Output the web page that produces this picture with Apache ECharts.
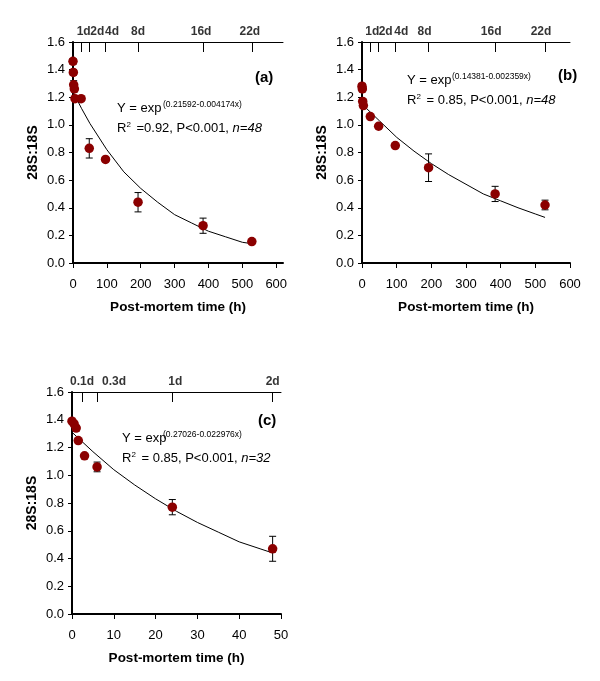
<!DOCTYPE html>
<html>
<head>
<meta charset="UTF-8">
<script src="https://cdn.jsdelivr.net/npm/echarts@6/dist/echarts.min.js"></script>
<style>html,body{margin:0;background:#fff}#chart{width:600px;height:681px}</style>
</head>
<body>
<div id="chart"></div>
<script>
// panel (a): post-mortem time (h), mean 28S:18S, error
var timeA = [0, 1, 2, 4, 6, 24, 48, 96, 192, 384, 528];
var meanA = [1.46, 1.38, 1.29, 1.26, 1.19, 1.19, 0.83, 0.75, 0.44, 0.27, 0.155];
var errA  = [0.02, 0.02, 0.03, 0.02, 0.01, 0.01, 0.07, 0.01, 0.07, 0.055, 0.01];
var fitXA = [0, 25, 50, 100, 150, 200, 250, 300, 350, 400, 450, 500, 528];
var fitYA = [1.24, 1.12, 1.01, 0.82, 0.66, 0.54, 0.44, 0.35, 0.29, 0.23, 0.19, 0.15, 0.14];

// panel (b)
var timeB = [0, 1, 2, 4, 24, 48, 96, 192, 384, 528];
var meanB = [1.28, 1.26, 1.17, 1.14, 1.06, 0.99, 0.85, 0.69, 0.50, 0.42];
var errB  = [0.02, 0.02, 0.02, 0.01, 0.01, 0.01, 0.01, 0.10, 0.055, 0.035];
var fitXB = [0, 50, 100, 150, 200, 250, 300, 350, 400, 450, 500, 528];
var fitYB = [1.15, 1.03, 0.91, 0.81, 0.72, 0.64, 0.57, 0.50, 0.45, 0.40, 0.355, 0.33];

// panel (c)
var timeC = [0, 0.5, 1, 1.5, 3, 6, 24, 48];
var meanC = [1.39, 1.37, 1.34, 1.25, 1.14, 1.06, 0.77, 0.47];
var errC  = [0.01, 0.01, 0.02, 0.01, 0.01, 0.035, 0.055, 0.09];
var fitXC = [0, 5, 10, 15, 20, 25, 30, 35, 40, 45, 48];
var fitYC = [1.31, 1.17, 1.04, 0.93, 0.83, 0.74, 0.66, 0.59, 0.52, 0.47, 0.44];

// top axes (days)
var dayTicksAB = [24, 48, 96, 192, 384, 528];
var dayLabelsAB = ['1d', '2d', '4d', '8d', '16d', '22d'];
var dayTicksC = [2.4, 6, 24, 48];
var dayLabelsC = ['0.1d', '0.3d', '1d', '2d'];

var bottomTicksA = [0, 100, 200, 300, 400, 500, 600];

var chart = echarts.init(document.getElementById('chart'));

function zip3(t, m, e) {
    return t.map(function (x, i) { return [x, m[i] - e[i], m[i] + e[i]]; });
}
function pairs(a, b) {
    return a.map(function (x, i) { return [x, b[i]]; });
}

function errorBar(params, api) {
    var x = api.value(0);
    var p1 = api.coord([x, api.value(2)]);
    var p2 = api.coord([x, api.value(1)]);
    var w = 3.5;
    var st = { stroke: '#000', lineWidth: 1 };
    return {
        type: 'group',
        children: [
            { type: 'line', shape: { x1: p1[0], y1: p1[1], x2: p2[0], y2: p2[1] }, style: st },
            { type: 'line', shape: { x1: p1[0] - w, y1: p1[1], x2: p1[0] + w, y2: p1[1] }, style: st },
            { type: 'line', shape: { x1: p2[0] - w, y1: p2[1], x2: p2[0] + w, y2: p2[1] }, style: st }
        ]
    };
}

function panelSeries(xi, yi, t, m, e, fx, fy) {
    return [
        {
            type: 'line', xAxisIndex: xi, yAxisIndex: yi, data: pairs(fx, fy),
            symbol: 'none', smooth: false, lineStyle: { color: '#000', width: 1 }, z: 2
        },
        {
            type: 'custom', xAxisIndex: xi, yAxisIndex: yi, data: zip3(t, m, e),
            renderItem: errorBar, encode: { x: 0, y: [1, 2] }, z: 3
        },
        {
            type: 'scatter', xAxisIndex: xi, yAxisIndex: yi, data: pairs(t, m),
            symbolSize: 9.5, itemStyle: { color: '#8b0000', opacity: 1 }, z: 4
        }
    ];
}

// day labels above the top axis, placed by the axis scale
function dayLabelSeries(xi, yi, ticks, labels, shifts) {
    return {
        type: 'scatter', xAxisIndex: xi, yAxisIndex: yi, symbolSize: 0, silent: true, clip: false,
        data: ticks.map(function (t, i) {
            return {
                value: [t, 1.6],
                label: {
                    show: true, position: 'top', distance: 4, offset: [shifts[i], 0],
                    formatter: labels[i], fontFamily: 'Liberation Sans', fontWeight: 'bold',
                    fontSize: 12, color: '#000'
                }
            };
        }),
        z: 5
    };
}

function yAx(gi) {
    return {
        type: 'value', gridIndex: gi, min: 0, max: 1.6, interval: 0.2,
        name: '28S:18S', nameLocation: 'middle', nameGap: 33,
        nameTextStyle: { fontFamily: 'Liberation Sans', fontWeight: 'bold', fontSize: 14, color: '#000' },
        axisLine: { show: true, lineStyle: { color: '#000', width: 2 } },
        axisTick: { show: true, length: 4, lineStyle: { color: '#000' } },
        axisLabel: { fontFamily: 'Liberation Sans', fontSize: 13, color: '#000', margin: 8,
            formatter: function (v) { return v.toFixed(1); } },
        splitLine: { show: false }
    };
}

function xBottom(gi, max, interval, custom) {
    var ax = {
        type: 'value', gridIndex: gi, position: 'bottom', min: 0, max: max, interval: interval,
        name: 'Post-mortem time (h)', nameLocation: 'middle', nameGap: 37,
        nameTextStyle: { fontFamily: 'Liberation Sans', fontWeight: 'bold', fontSize: 13.5, color: '#000' },
        axisLine: { show: true, onZero: false, lineStyle: { color: '#000', width: 2 } },
        axisTick: { show: true, length: 5, lineStyle: { color: '#000' } },
        axisLabel: { fontFamily: 'Liberation Sans', fontSize: 13, color: '#000', margin: 15 },
        splitLine: { show: false }
    };
    if (custom) {
        ax.axisTick.customValues = custom;
        ax.axisLabel.customValues = custom;
    }
    return ax;
}

function xTop(gi, max, ticks) {
    return {
        type: 'value', gridIndex: gi, position: 'top', min: 0, max: max,
        axisLine: { show: true, onZero: false, lineStyle: { color: '#000', width: 1 } },
        axisTick: { show: true, inside: true, length: 10, customValues: ticks, lineStyle: { color: '#000' } },
        axisLabel: { show: false },
        splitLine: { show: false }
    };
}

var txt = { fontFamily: 'Liberation Sans', fontSize: 13, fill: '#000' };
function eqGraphics(x, y1, xs, sup, r2, n) {
    return [
        { type: 'text', left: x, top: y1 - 8, style: Object.assign({ text: 'Y = exp' }, txt) },
        { type: 'text', left: xs, top: y1 - 10, style: { text: sup, fontFamily: 'Liberation Sans', fontSize: 8.5, fill: '#000' } },
        { type: 'text', left: x, top: y1 + 11, style: Object.assign({
            text: '{b|R}{s|2}{b|' + r2 + ', P<0.001, }{i|n=' + n + '}',
            rich: {
                b: { fontFamily: 'Liberation Sans', fontSize: 13, color: '#000', lineHeight: 15 },
                s: { fontFamily: 'Liberation Sans', fontSize: 8, color: '#000', lineHeight: 15, verticalAlign: 'top', padding: [0, 2, 0, 0] },
                i: { fontFamily: 'Liberation Sans', fontSize: 13, fontStyle: 'italic', color: '#000', lineHeight: 15 }
            }
        }, txt) }
    ];
}
function panelLabel(x, y, s) {
    return { type: 'text', left: x, top: y, style: { text: s, fontFamily: 'Liberation Sans', fontWeight: 'bold', fontSize: 15, fill: '#000' } };
}

var option = {
    backgroundColor: '#fff',
    animation: false,
    grid: [
        { left: 73, top: 42, width: 210, height: 221, outerBoundsMode: 'none' },
        { left: 362, top: 42, width: 208, height: 221, outerBoundsMode: 'none' },
        { left: 72, top: 392, width: 209, height: 222, outerBoundsMode: 'none' }
    ],
    xAxis: [
        xBottom(0, 620, 100, bottomTicksA),
        xTop(0, 620, dayTicksAB),
        xBottom(1, 600, 100),
        xTop(1, 600, dayTicksAB),
        xBottom(2, 50, 10),
        xTop(2, 50, dayTicksC)
    ],
    yAxis: [yAx(0), yAx(1), yAx(2)],
    series: [].concat(
        panelSeries(0, 0, timeA, meanA, errA, fitXA, fitYA),
        panelSeries(2, 1, timeB, meanB, errB, fitXB, fitYB),
        panelSeries(4, 2, timeC, meanC, errC, fitXC, fitYC),
        [
            dayLabelSeries(0, 0, dayTicksAB, dayLabelsAB, [2.5, 8, 6.5, 0, -2, -2]),
            dayLabelSeries(2, 1, dayTicksAB, dayLabelsAB, [2, 7, 6, -4, -4, -4]),
            dayLabelSeries(4, 2, dayTicksC, dayLabelsC, [0, 17, 3, 0])
        ]
    ),
    graphic: [].concat(
        eqGraphics(117, 110, 163, '(0.21592-0.004174x)', ' =0.92', 48),
        eqGraphics(407, 82, 452, '(0.14381-0.002359x)', ' = 0.85', 48),
        eqGraphics(122, 440, 163, '(0.27026-0.022976x)', ' = 0.85', 32),
        [panelLabel(255, 70, '(a)'), panelLabel(558, 68, '(b)'), panelLabel(258, 413, '(c)')]
    )
};
chart.setOption(option);
</script>
</body>
</html>
